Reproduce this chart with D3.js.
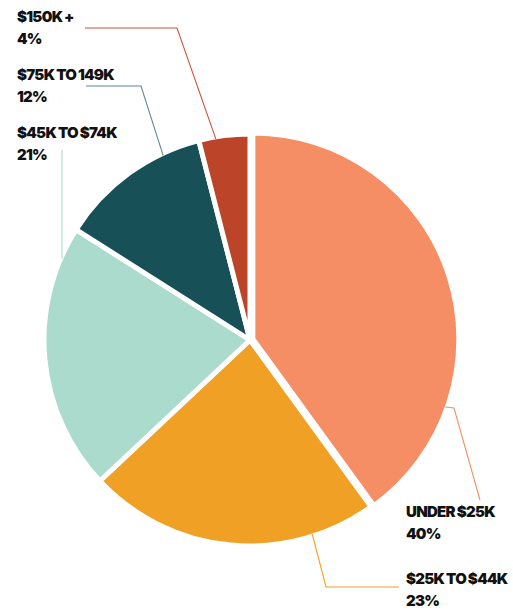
<!DOCTYPE html>
<html>
<head>
<meta charset="utf-8">
<script src="https://cdn.jsdelivr.net/npm/d3@7"></script>
<style>
  html, body { margin: 0; padding: 0; background: #fff; }
  svg text { font-family: Inter, "Noto Sans", sans-serif; font-weight: 900; font-size: 15px; letter-spacing: -0.7px; word-spacing: -0.5px; fill: #111; }
</style>
</head>
<body>
<svg id="chart" width="513" height="615"></svg>
<script>
// Household income brackets, clockwise from 12 o'clock
const categories = ["UNDER $25K", "$25K TO $44K", "$45K TO $74K", "$75K TO 149K", "$150K +"];
const shares = [40, 23, 21, 12, 4];
const valueLabels = ["40%", "23%", "21%", "12%", "4%"];
const colors = ["#f58e65", "#f0a024", "#aadbcd", "#175057", "#bc4429"];
const lineColors = ["#f58e65", "#f0a024", "#aadbcd", "#5b8b91", "#c9553c"];

const svg = d3.select("#chart");
const cx = 250, cy = 340, R = 206;
const g = svg.append("g").attr("transform", `translate(${cx},${cy})`);

const pie = d3.pie().sort(null).value(d => d.value);
const arcs = pie(categories.map((c, i) => ({ name: c, value: shares[i], i })));
const arc = d3.arc().innerRadius(0).outerRadius(R);

// the largest slice is pulled slightly out along its bisector
const explode = i => (i === 0 ? 3 : 0);
const offset = d => {
  const a = (d.startAngle + d.endAngle) / 2;
  const e = explode(d.data.i);
  return [Math.sin(a) * e, -Math.cos(a) * e];
};

g.selectAll("path.slice")
  .data(arcs)
  .join("path")
  .attr("class", "slice")
  .attr("d", arc)
  .attr("transform", d => `translate(${offset(d)})`)
  .attr("fill", d => colors[d.data.i])
  .attr("stroke", "#fff")
  .attr("stroke-width", 5)
  .attr("stroke-linejoin", "round");

// label layout: text anchor, elbow, and where along the slice the leader meets the rim
const layout = [
  { x: 406, y: 517, frac: 0.76, path: p => [[p[0], p[1]], [454, 408], [480, 500]] },
  { x: 406, y: 584, frac: 0.22, path: p => [[p[0], p[1]], [326, 587], [399, 587]] },
  { x: 17,  y: 138, frac: 0.91, path: p => [[62, 150], [62, cy - Math.sqrt(R * R - (62 - cx) ** 2) + 3]] },
  { x: 17,  y: 80,  frac: 0.75, path: p => [[86, 86], [141, 86], [p[0], p[1]]] },
  { x: 17,  y: 22,  frac: 0.33, path: p => [[85, 28], [177, 28], [p[0], p[1]]] }
];

const rimPoint = d => {
  const L = layout[d.data.i];
  const a = d.startAngle + (d.endAngle - d.startAngle) * L.frac;
  const o = offset(d);
  return [cx + o[0] + Math.sin(a) * (R - 2), cy + o[1] - Math.cos(a) * (R - 2)];
};

svg.selectAll("path.leader")
  .data(arcs)
  .join("path")
  .attr("class", "leader")
  .attr("d", d => d3.line()(layout[d.data.i].path(rimPoint(d))))
  .attr("fill", "none")
  .attr("stroke", d => lineColors[d.data.i])
  .attr("stroke-width", 1.1);

const labels = svg.selectAll("g.label")
  .data(arcs)
  .join("g")
  .attr("class", "label")
  .attr("transform", d => `translate(${layout[d.data.i].x},${layout[d.data.i].y})`);

labels.append("text").text(d => d.data.name);
labels.append("text").attr("y", 21.5).text(d => valueLabels[d.data.i]);
</script>
</body>
</html>
